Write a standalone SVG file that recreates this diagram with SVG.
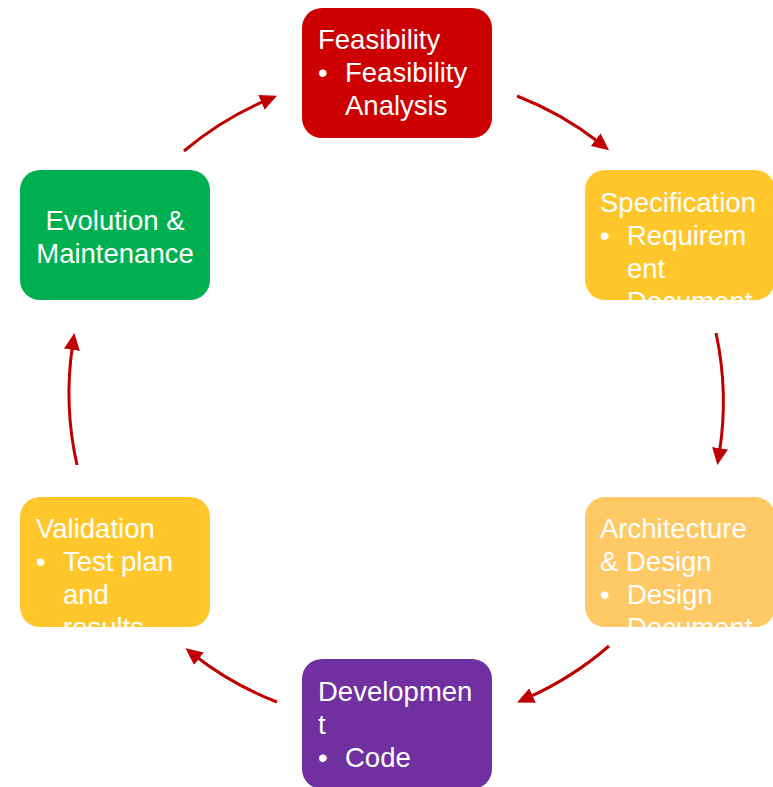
<svg xmlns="http://www.w3.org/2000/svg" width="773" height="787" viewBox="0 0 773 787">
<style>
.t{font-family:"Liberation Sans",Arial,sans-serif;font-size:27.5px;fill:#fff}
.c{text-anchor:middle}
.arr{fill:none;stroke:#C00000;stroke-width:3}
</style>
<defs>
<marker id="ah" markerUnits="userSpaceOnUse" markerWidth="18" markerHeight="16" refX="5" refY="8" orient="auto">
<path d="M0,0 L17,8 L0,16 z" fill="#C00000"/>
</marker>
<clipPath id="cSpec"><rect x="585" y="170" width="190" height="130" rx="20"/></clipPath>
<clipPath id="cArch"><rect x="585" y="497" width="190" height="130" rx="20"/></clipPath>
<clipPath id="cVal"><rect x="20" y="497" width="190" height="130" rx="20"/></clipPath>
</defs>
<g id="connectors">
<path class="arr" marker-end="url(#ah)" d="M517,96 A326,326 0 0 1 599.6,142.8"/>
<path class="arr" marker-end="url(#ah)" d="M716,333 A326,326 0 0 1 719.3,453.2"/>
<path class="arr" marker-end="url(#ah)" d="M609,646 A326,326 0 0 1 528,697.6"/>
<path class="arr" marker-end="url(#ah)" d="M277,702 A326,326 0 0 1 195,655.7"/>
<path class="arr" marker-end="url(#ah)" d="M77,465 A326,326 0 0 1 72.6,344.8"/>
<path class="arr" marker-end="url(#ah)" d="M184,151 A326,326 0 0 1 266,100.4"/>
</g>
<g id="feasibility">
<rect x="302" y="8" width="190" height="130" rx="20" fill="#CC0000"/>
<text class="t" x="318" y="49">Feasibility</text>
<text class="t" x="318" y="82">•</text><text class="t" x="345" y="82">Feasibility</text>
<text class="t" x="345" y="115">Analysis</text>
</g>
<g id="specification">
<rect x="585" y="170" width="190" height="130" rx="20" fill="#FFC72C"/>
<g clip-path="url(#cSpec)">
<text class="t" x="600" y="212">Specification</text>
<text class="t" x="600" y="245">•</text><text class="t" x="627" y="245">Requirem</text>
<text class="t" x="627" y="278">ent</text>
<text class="t" x="627" y="311">Document</text>
</g>
</g>
<g id="architecture">
<rect x="585" y="497" width="190" height="130" rx="20" fill="#FFCA66"/>
<g clip-path="url(#cArch)">
<text class="t" x="600" y="538">Architecture</text>
<text class="t" x="600" y="571">&amp; Design</text>
<text class="t" x="600" y="604">•</text><text class="t" x="627" y="604">Design</text>
<text class="t" x="627" y="637">Document</text>
</g>
</g>
<g id="development">
<rect x="302" y="659" width="190" height="130" rx="20" fill="#7030A0"/>
<text class="t" x="318" y="701">Developmen</text>
<text class="t" x="318" y="734">t</text>
<text class="t" x="318" y="767">•</text><text class="t" x="345" y="767">Code</text>
</g>
<g id="validation">
<rect x="20" y="497" width="190" height="130" rx="20" fill="#FFC72C"/>
<g clip-path="url(#cVal)">
<text class="t" x="36" y="538">Validation</text>
<text class="t" x="36" y="571">•</text><text class="t" x="63" y="571">Test plan</text>
<text class="t" x="63" y="604">and</text>
<text class="t" x="63" y="637">results</text>
</g>
</g>
<g id="evolution">
<rect x="20" y="170" width="190" height="130" rx="20" fill="#00B050"/>
<text class="t c" x="115" y="230">Evolution &amp;</text>
<text class="t c" x="115" y="263">Maintenance</text>
</g>
</svg>
